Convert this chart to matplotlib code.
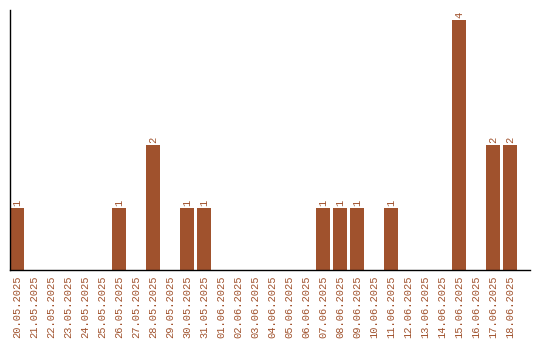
import matplotlib
matplotlib.use("Agg")
import matplotlib.pyplot as plt
import pandas as pd

dates = pd.date_range("2025-05-20", "2025-06-18", freq="D")
labels = [d.strftime("%d.%m.%Y") for d in dates]
counts_by_day = {
    "20.05.2025": 1, "26.05.2025": 1, "28.05.2025": 2, "30.05.2025": 1,
    "31.05.2025": 1, "07.06.2025": 1, "08.06.2025": 1, "09.06.2025": 1,
    "11.06.2025": 1, "15.06.2025": 4, "17.06.2025": 2, "18.06.2025": 2,
}
values = [counts_by_day.get(l, 0) for l in labels]

color = "#A0522D"
font = "Liberation Mono"

fig = plt.figure(figsize=(5.4, 3.4), dpi=100)
ax = fig.add_axes([10 / 540, 70 / 340, 520 / 540, 260 / 340])

x = list(range(len(labels)))
ax.bar(x, values, width=14 / 17, color=color, align="edge")
ax.set_xlim(0, 520 / 17)
ax.set_ylim(0, 4 * 260 / 250)

for xi, v in zip(x, values):
    if v > 0:
        ax.text(xi + 7 / 17, v + 0.03, str(v), rotation=90, ha="center", va="bottom",
                color=color, fontsize=7.5, family=font)

ax.set_xticks([xi + 7 / 17 for xi in x])
ax.set_xticklabels(labels, rotation=90, color=color, fontsize=7.5, family=font)
ax.tick_params(axis="x", length=0, pad=4)
ax.set_yticks([])
for s in ["top", "right"]:
    ax.spines[s].set_visible(False)
ax.spines["left"].set_linewidth(1)
ax.spines["bottom"].set_linewidth(1)

fig.savefig("out.png", dpi=100)
